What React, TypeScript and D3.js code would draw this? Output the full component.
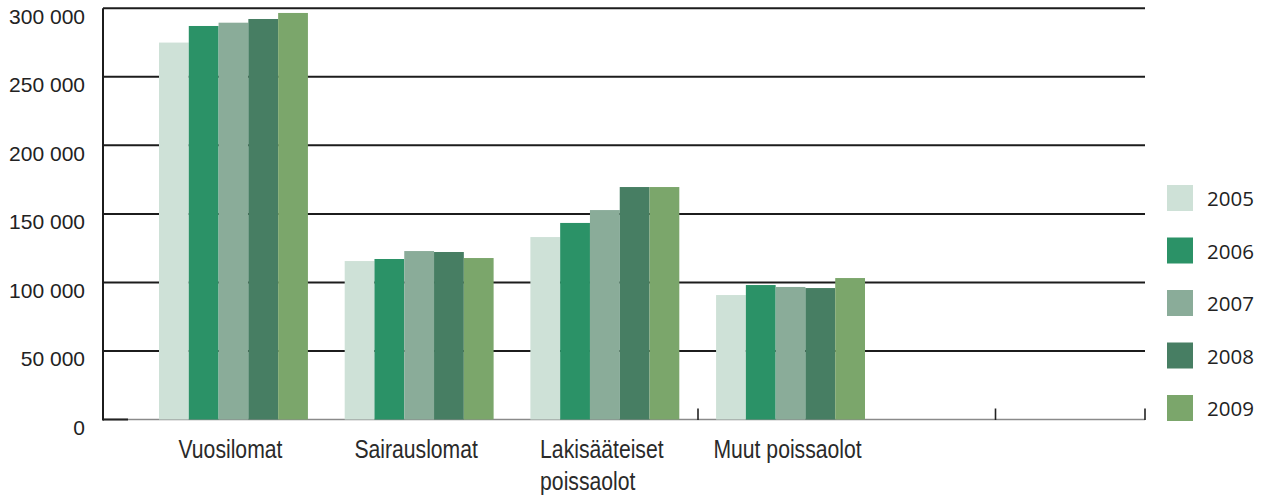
import React, { useEffect, useRef } from "react";
import * as d3 from "d3";

const categories: string[][] = [
  ["Vuosilomat"],
  ["Sairauslomat"],
  ["Lakisääteiset", "poissaolot"],
  ["Muut poissaolot"],
];
const years = ["2005", "2006", "2007", "2008", "2009"];
const v2005 = [275000, 115600, 133100, 90800];
const v2006 = [287100, 117100, 143400, 98100];
const v2007 = [289500, 122900, 152800, 96700];
const v2008 = [292200, 122200, 169600, 95900];
const v2009 = [296600, 117800, 169600, 103200];
const seriesValues = [v2005, v2006, v2007, v2008, v2009];
const yTicks = [0, 50000, 100000, 150000, 200000, 250000, 300000];
const colors = ["#cee1d7", "#2b9267", "#8aac99", "#477e63", "#7ba66b"];

const W = 1266;
const H = 497;

export default function App() {
  const ref = useRef<SVGSVGElement | null>(null);

  useEffect(() => {
    const svg = d3.select(ref.current);
    svg.selectAll("*").remove();

    const axisX = 103;
    const rightX = 1145;
    const y = d3.scaleLinear().domain([0, 300000]).range([419.5, 8.3]);
    const catKeys = categories.map((c) => c.join(" "));
    const x0 = d3
      .scaleBand<string>()
      .domain(catKeys)
      .range([159, 865])
      .paddingInner(0.198)
      .paddingOuter(0);
    const x1 = d3
      .scaleBand<string>()
      .domain(years)
      .range([0, x0.bandwidth()])
      .padding(0);
    const tickScale = d3.scaleLinear().domain([0, 4]).range([axisX, 1293]);
    const axisTicks = [2, 3];

    // gridlines
    svg
      .append("g")
      .selectAll("line")
      .data(yTicks.filter((t) => t > 0))
      .join("line")
      .attr("x1", axisX)
      .attr("x2", rightX)
      .attr("y1", (d) => y(d))
      .attr("y2", (d) => y(d))
      .attr("stroke", "#1c1c1c")
      .attr("stroke-width", 2);

    // bottom axis
    svg
      .append("line")
      .attr("x1", axisX)
      .attr("x2", rightX)
      .attr("y1", y(0))
      .attr("y2", y(0))
      .attr("stroke", "#8a8a8a")
      .attr("stroke-width", 1.6);
    svg
      .append("line")
      .attr("x1", axisX)
      .attr("x2", 128)
      .attr("y1", y(0))
      .attr("y2", y(0))
      .attr("stroke", "#222")
      .attr("stroke-width", 2);

    // y axis line
    svg
      .append("line")
      .attr("x1", axisX)
      .attr("x2", axisX)
      .attr("y1", y(300000))
      .attr("y2", y(0) + 1)
      .attr("stroke", "#1c1c1c")
      .attr("stroke-width", 2);

    // x ticks
    const tickXs = axisTicks.map((t) => tickScale(t)).concat([rightX]);
    svg
      .append("g")
      .selectAll("line")
      .data(tickXs)
      .join("line")
      .attr("x1", (d) => d)
      .attr("x2", (d) => d)
      .attr("y1", y(0) - 11)
      .attr("y2", y(0) + 0.5)
      .attr("stroke", "#222")
      .attr("stroke-width", 1.6);

    // bars
    const groups = svg
      .append("g")
      .selectAll("g")
      .data(catKeys)
      .join("g")
      .attr("transform", (d) => `translate(${x0(d)},0)`);
    groups
      .selectAll("rect")
      .data((_, i) =>
        years.map((yr, j) => ({ yr, v: seriesValues[j][i], j }))
      )
      .join("rect")
      .attr("x", (d) => x1(d.yr) as number)
      .attr("width", x1.bandwidth())
      .attr("y", (d) => y(d.v))
      .attr("height", (d) => y(0) - y(d.v))
      .attr("fill", (d) => colors[d.j]);

    // y tick labels
    svg
      .append("g")
      .selectAll("text")
      .data(yTicks)
      .join("text")
      .attr("x", 85)
      .attr("y", (d) => y(d) + 15.5)
      .attr("text-anchor", "end")
      .attr("font-family", "'Liberation Sans', Arial, Helvetica, sans-serif")
      .attr("font-size", 21)
      .attr("fill", "#222")
      .text((d) => (d === 0 ? "0" : d3.format(",")(d).replace(/,/g, " ")));

    // category labels (condensed via horizontal scale)
    const squeeze = 0.83;
    const labelG = svg.append("g");
    categories.forEach((lines, i) => {
      const key = catKeys[i];
      const cx = (x0(key) as number) + x0.bandwidth() / 2 - 3;
      const g = labelG
        .append("g")
        .attr("transform", `translate(${cx},0) scale(${squeeze},1)`);
      const t = g
        .append("text")
        .attr("font-family", "'Liberation Sans', Arial, sans-serif")
        .attr("font-size", 25.5)
        .attr("fill", "#2a2a2a")
        .attr("text-anchor", "start");
      const spans = lines.map((ln, k) =>
        t
          .append("tspan")
          .attr("y", 458 + k * 32)
          .text(ln)
      );
      const widths = spans.map((s) => (s.node() as SVGTSpanElement).getComputedTextLength());
      const maxW = Math.max(...widths);
      spans.forEach((s) => s.attr("x", -maxW / 2));
    });

    // legend
    const legend = svg
      .append("g")
      .selectAll("g")
      .data(years)
      .join("g")
      .attr("transform", (_, i) => `translate(1167, ${185 + i * 52.5})`);
    legend
      .append("rect")
      .attr("width", 26)
      .attr("height", 26)
      .attr("fill", (_, i) => colors[i]);
    legend
      .append("text")
      .attr("x", 40)
      .attr("y", 21)
      .attr("font-family", "'Open Sans', 'Noto Sans', sans-serif")
      .attr("font-size", 20.5)
      .attr("fill", "#222")
      .text((d) => d);
  }, []);

  return (
    <svg
      ref={ref}
      width={W}
      height={H}
      style={{ position: "absolute", left: 0, top: 0, background: "#fff" }}
    />
  );
}
